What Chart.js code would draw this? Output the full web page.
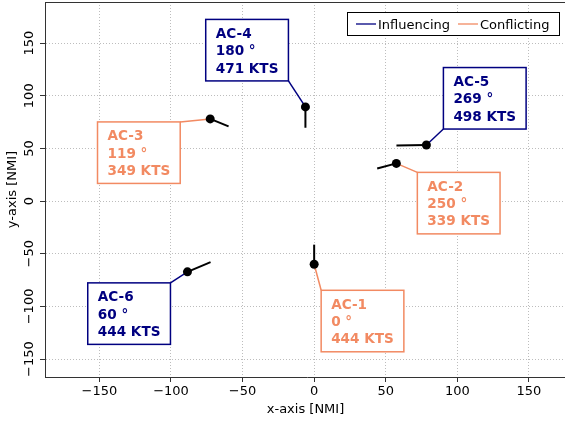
<!DOCTYPE html>
<html>
<head>
<meta charset="utf-8">
<script src="https://cdn.jsdelivr.net/npm/chart.js@4.4.1/dist/chart.umd.min.js"></script>
<style>
  html, body { margin: 0; padding: 0; background: #fff; overflow: hidden; }
  #wrap { width: 565px; height: 421px; overflow: hidden; }
</style>
</head>
<body>
<div id="wrap"><canvas id="chart" width="600" height="421"></canvas></div>
<script>
// aircraft data
const aircraft = ['AC-1', 'AC-2', 'AC-3', 'AC-4', 'AC-5', 'AC-6'];
const xPos = [0, 57.4, -72.6, -6.1, 78.4, -88.5];
const yPos = [-60, 35.8, 78, 89.4, 53.2, -67.2];
const headings = [0, 250, 119, 180, 269, 60];
const speeds = [444, 339, 349, 471, 498, 444];
const status = ['Conflicting', 'Conflicting', 'Conflicting', 'Influencing', 'Influencing', 'Influencing'];

const xTicks = [-150, -100, -50, 0, 50, 100, 150];
const yTicks = [-150, -100, -50, 0, 50, 100, 150];
const legendLabels = ['Influencing', 'Conflicting'];

// heading line length = distance flown in this many hours
const leadTime = 0.042;

const colors = { Influencing: '#000080', Conflicting: '#F28A62' };
const FONT = "'DejaVu Sans', sans-serif";

// box corner placement relative to each aircraft dot (pixels)
const labelLayout = [
  { corner: 'tl', dx: 7, dy: 26 },
  { corner: 'tl', dx: 21, dy: 9 },
  { corner: 'tr', dx: -30, dy: 3 },
  { corner: 'br', dx: -17, dy: -26 },
  { corner: 'bl', dx: 17, dy: -16 },
  { corner: 'tr', dx: -17, dy: 11 },
];

const minusFix = v => String(v).replace('-', '\u2212');

const headingSets = aircraft.map((name, i) => {
  const rad = headings[i] * Math.PI / 180;
  const len = speeds[i] * leadTime;
  return {
    type: 'line',
    label: name + ' heading',
    data: [
      { x: xPos[i], y: yPos[i] },
      { x: xPos[i] + len * Math.sin(rad), y: yPos[i] + len * Math.cos(rad) },
    ],
    borderColor: '#000',
    borderWidth: 2,
    pointRadius: 0,
    fill: false,
  };
});

const dotSet = {
  type: 'scatter',
  label: 'Aircraft',
  data: aircraft.map((_, i) => ({ x: xPos[i], y: yPos[i] })),
  backgroundColor: '#000',
  borderWidth: 0,
  pointRadius: 4.5,
};

const annotations = {
  id: 'annotations',
  beforeDatasetsDraw(chart) {
    const { ctx, scales: { x, y } } = chart;
    ctx.save();
    aircraft.forEach((name, i) => {
      const box = boxFor(chart, i);
      const px = x.getPixelForValue(xPos[i]);
      const py = y.getPixelForValue(yPos[i]);
      ctx.strokeStyle = colors[status[i]];
      ctx.lineWidth = 1.5;
      ctx.beginPath();
      ctx.moveTo(box.cx, box.cy);
      ctx.lineTo(px, py);
      ctx.stroke();
    });
    ctx.restore();
  },
  afterDatasetsDraw(chart) {
    const { ctx } = chart;
    ctx.save();
    aircraft.forEach((name, i) => {
      const box = boxFor(chart, i);
      const col = colors[status[i]];
      ctx.fillStyle = '#fff';
      ctx.fillRect(box.left, box.top, box.w, box.h);
      ctx.strokeStyle = col;
      ctx.lineWidth = 1.5;
      ctx.strokeRect(box.left, box.top, box.w, box.h);
      ctx.fillStyle = col;
      ctx.font = 'bold 13.6px ' + FONT;
      ctx.textAlign = 'left';
      ctx.textBaseline = 'alphabetic';
      box.lines.forEach((t, k) => ctx.fillText(t, box.left + 10, box.top + 18.5 + k * 17.3));
    });

    // top spine (left/bottom come from the scales, right one is off-canvas)
    const a = chart.chartArea;
    ctx.strokeStyle = '#333';
    ctx.lineWidth = 1;
    ctx.beginPath();
    ctx.moveTo(a.left, Math.round(a.top) + 0.5);
    ctx.lineTo(a.right, Math.round(a.top) + 0.5);
    ctx.stroke();

    // legend
    const lw = 212, lh = 23;
    const lx = a.right - 10 - lw, ly = a.top + 10;
    ctx.fillStyle = '#fff';
    ctx.fillRect(lx, ly, lw, lh);
    ctx.strokeStyle = '#000';
    ctx.lineWidth = 1;
    ctx.strokeRect(Math.round(lx) + 0.5, Math.round(ly) + 0.5, lw, lh);
    ctx.font = '13px ' + FONT;
    let cx = lx + 9;
    legendLabels.forEach(lab => {
      ctx.strokeStyle = colors[lab];
      ctx.lineWidth = 1.3;
      ctx.beginPath();
      ctx.moveTo(cx, ly + lh / 2 + 0.5);
      ctx.lineTo(cx + 20, ly + lh / 2 + 0.5);
      ctx.stroke();
      ctx.fillStyle = '#000';
      ctx.fillText(lab, cx + 22, ly + lh / 2 + 5);
      cx += 22 + ctx.measureText(lab).width + 8;
    });
    ctx.restore();
  },
  afterDraw(chart) {
    const { ctx, chartArea: a, scales: { y } } = chart;
    ctx.save();
    ctx.fillStyle = '#000';
    ctx.font = '13px ' + FONT;
    // rotated y tick labels
    y.ticks.forEach(t => {
      const py = y.getPixelForValue(t.value);
      ctx.save();
      ctx.translate(a.left - 15, py);
      ctx.rotate(-Math.PI / 2);
      ctx.textAlign = 'center';
      ctx.textBaseline = 'middle';
      ctx.fillText(minusFix(t.value), 0, 0);
      ctx.restore();
    });
    // axis titles
    ctx.textAlign = 'center';
    ctx.textBaseline = 'middle';
    ctx.fillText('x-axis [NMI]', (a.left + 566) / 2, 410);
    ctx.save();
    ctx.translate(13, (a.top + a.bottom) / 2);
    ctx.rotate(-Math.PI / 2);
    ctx.fillText('y-axis [NMI]', 0, 0);
    ctx.restore();
    ctx.restore();
  },
};

function boxFor(chart, i) {
  const { ctx, scales: { x, y } } = chart;
  ctx.save();
  ctx.font = 'bold 13.6px ' + FONT;
  const lines = [aircraft[i], headings[i] + ' \u00b0', speeds[i] + ' KTS'];
  const tw = Math.max(...lines.map(t => ctx.measureText(t).width));
  ctx.restore();
  const w = tw + 20, h = 61.5;
  const px = x.getPixelForValue(xPos[i]);
  const py = y.getPixelForValue(yPos[i]);
  const L = labelLayout[i];
  const cx = px + L.dx, cy = py + L.dy;
  const left = L.corner[1] === 'l' ? cx : cx - w;
  const top = L.corner[0] === 't' ? cy : cy - h;
  return { left, top, w, h, cx, cy, lines };
}

const gridOpts = {
  color: '#bdbdbd',
  lineWidth: 1,
  drawTicks: true,
  tickLength: 5,
  tickColor: '#333',
  tickWidth: 1,
  tickBorderDash: [],
};

new Chart(document.getElementById('chart').getContext('2d'), {
  data: { datasets: [dotSet, ...headingSets] },
  plugins: [annotations],
  options: {
    responsive: false,
    animation: false,
    layout: { autoPadding: false, padding: { top: 2, right: 31, left: 0, bottom: 0 } },
    plugins: { legend: { display: false }, tooltip: { enabled: false } },
    scales: {
      x: {
        type: 'linear',
        min: -188,
        max: 178,
        afterBuildTicks: s => { s.ticks = xTicks.map(v => ({ value: v })); },
        afterFit: s => { s.height = 44; },
        ticks: {
          callback: v => minusFix(v),
          color: '#000',
          font: { family: FONT, size: 13 },
          padding: 2,
          maxRotation: 0,
          autoSkip: false,
        },
        grid: gridOpts,
        border: { display: true, color: '#333', width: 1, dash: [1, 2] },
      },
      y: {
        type: 'linear',
        min: -167,
        max: 189,
        afterBuildTicks: s => { s.ticks = yTicks.map(v => ({ value: v })); },
        afterFit: s => { s.width = 45; },
        ticks: { display: false },
        grid: gridOpts,
        border: { display: true, color: '#333', width: 1, dash: [1, 2] },
      },
    },
  },
});
</script>
</body>
</html>
